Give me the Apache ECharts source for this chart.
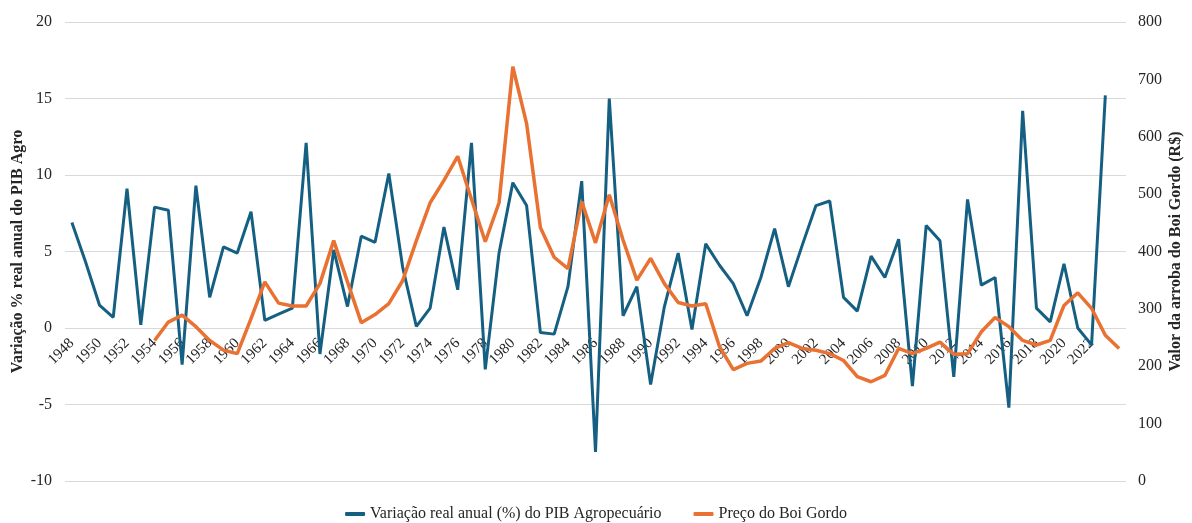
<!DOCTYPE html>
<html>
<head>
<meta charset="utf-8">
<script src="https://cdn.jsdelivr.net/npm/echarts@6/dist/echarts.min.js"></script>
<style>
html,body{margin:0;padding:0;background:#fff;}
#chart{width:1192px;height:523px;}
</style>
</head>
<body>
<div id="chart"></div>
<script>
const years = [];
for (let y = 1948; y <= 2024; y++) years.push(String(y));

const pibAgro = [
  6.9, 4.3, 1.5, 0.7, 9.1, 0.2, 7.9, 7.7, -2.4, 9.3,
  2.0, 5.3, 4.9, 7.6, 0.5, 0.9, 1.3, 12.1, -1.7, 5.1,
  1.4, 6.0, 5.6, 10.1, 4.0, 0.1, 1.3, 6.6, 2.5, 12.1,
  -2.7, 4.9, 9.5, 8.0, -0.3, -0.4, 2.7, 9.6, -8.1, 15.0,
  0.8, 2.7, -3.7, 1.4, 4.9, -0.1, 5.5, 4.1, 2.9, 0.8,
  3.3, 6.5, 2.7, 5.4, 8.0, 8.3, 2.0, 1.1, 4.7, 3.3,
  5.8, -3.8, 6.7, 5.7, -3.2, 8.4, 2.8, 3.3, -5.2, 14.2,
  1.3, 0.4, 4.2, 0.0, -1.1, 15.2, null
];

const boiGordo = [
  null, null, null, null, null, null, 245, 277, 289, 269,
  245, 228, 222, 283, 347, 310, 305, 305, 344, 419,
  347, 276, 290, 309, 349, 419, 485, 524, 566, 491,
  417, 485, 722, 623, 442, 390, 370, 487, 415, 499,
  420, 350, 388, 344, 311, 305, 309, 234, 194, 205,
  209, 231, 241, 231, 228, 222, 210, 182, 173, 184,
  231, 222, 231, 242, 221, 222, 260, 285, 269, 245,
  237, 245, 306, 328, 301, 254, 231
];

const leftTicks = { min: -10, max: 20, interval: 5 };
const rightTicks = { min: 0, max: 800, interval: 100 };

const FONT = 'Liberation Serif';
const BLUE = '#156082';
const ORANGE = '#E97132';

const chart = echarts.init(document.getElementById('chart'), null, { renderer: 'canvas' });
chart.setOption({
  animation: false,
  backgroundColor: '#ffffff',
  textStyle: { fontFamily: FONT },
  grid: { left: 65, right: 66, top: 22, bottom: 42, containLabel: false, outerBoundsMode: 'none' },
  legend: {
    top: 501,
    left: 'center',
    itemGap: 32,
    itemWidth: 20,
    itemHeight: 4,
    textStyle: { fontFamily: FONT, fontSize: 16, color: '#262626' },
    data: [
      { name: 'Variação real anual (%) do PIB Agropecuário', icon: 'roundRect' },
      { name: 'Preço do Boi Gordo', icon: 'roundRect' }
    ]
  },
  xAxis: {
    type: 'category',
    data: years,
    boundaryGap: true,
    offset: 0,
    axisLine: { show: false, onZero: false },
    axisTick: { show: false },
    axisLabel: {
      rotate: 45,
      margin: 13,
      fontFamily: FONT,
      fontSize: 15,
      color: '#262626',
      interval: function (idx, val) { return idx % 2 === 0 && val !== '2024'; }
    },
    splitLine: { show: false }
  },
  yAxis: [
    {
      type: 'value',
      min: leftTicks.min, max: leftTicks.max, interval: leftTicks.interval,
      name: 'Variação % real anual do PIB Agro',
      nameLocation: 'middle',
      nameRotate: 90,
      nameGap: 39,
      nameMoveOverlap: false,
      nameTextStyle: { fontFamily: FONT, fontSize: 16, fontWeight: 'bold', color: '#262626' },
      axisLine: { show: false },
      axisTick: { show: false },
      axisLabel: { fontFamily: FONT, fontSize: 16, color: '#262626', margin: 13 },
      splitLine: { show: true, lineStyle: { color: '#d9d9d9', width: 1 } }
    },
    {
      type: 'value',
      position: 'right',
      min: rightTicks.min, max: rightTicks.max, interval: rightTicks.interval,
      name: 'Valor da arroba do Boi Gordo (R$)',
      nameLocation: 'middle',
      nameRotate: 90,
      nameGap: 42,
      nameMoveOverlap: false,
      nameTextStyle: { fontFamily: FONT, fontSize: 16, fontWeight: 'bold', color: '#262626' },
      axisLine: { show: false },
      axisTick: { show: false },
      axisLabel: { fontFamily: FONT, fontSize: 16, color: '#262626', margin: 12 },
      splitLine: { show: false }
    }
  ],
  series: [
    {
      name: 'Variação real anual (%) do PIB Agropecuário',
      type: 'line',
      yAxisIndex: 0,
      data: pibAgro,
      symbol: 'none',
      itemStyle: { color: BLUE },
      lineStyle: { color: BLUE, width: 3 },
      z: 2
    },
    {
      name: 'Preço do Boi Gordo',
      type: 'line',
      yAxisIndex: 1,
      data: boiGordo,
      symbol: 'none',
      itemStyle: { color: ORANGE },
      lineStyle: { color: ORANGE, width: 3.5 },
      z: 3
    }
  ]
});

// Place the category axis labels at the value-axis zero line (as in the original chart)
const zeroY = chart.convertToPixel({ yAxisIndex: 0 }, 0);
const bottomY = chart.convertToPixel({ yAxisIndex: 0 }, leftTicks.min);
chart.setOption({ xAxis: { offset: -(bottomY - zeroY) } });
</script>
</body>
</html>
